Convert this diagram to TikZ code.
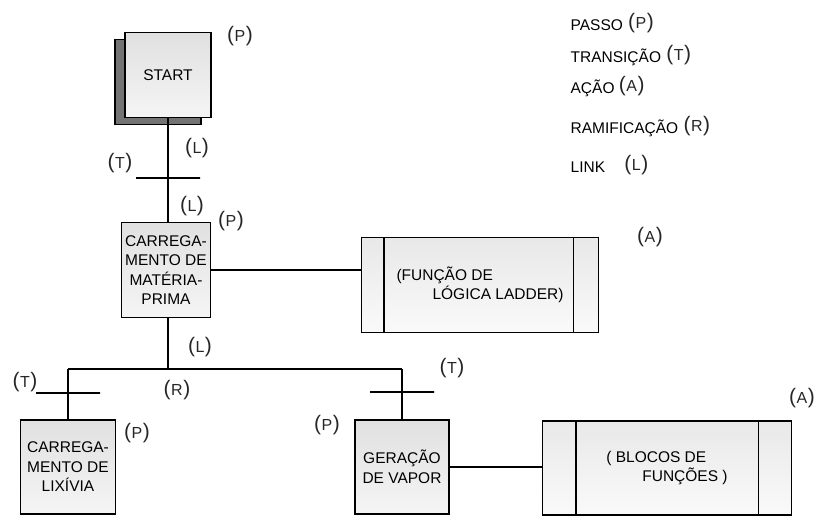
\documentclass[tikz,border=0pt]{standalone}
\usepackage{fontspec}
\setmainfont{Liberation Sans}
\usetikzlibrary{positioning,shadows}

\begin{document}
\begin{tikzpicture}[
  x=1pt, y=-1pt,
  line width=1.3pt,
  font=\fontsize{15.5}{19.5}\selectfont,
  stepbox/.style={rectangle, draw, top color=gray!24, bottom color=gray!8,
                  align=center, inner sep=1pt, minimum width=89pt, minimum height=95pt},
  actbox/.style={rectangle, draw, top color=gray!18, bottom color=gray!4,
                 align=left, minimum height=95pt},
  transbar/.style={rectangle, draw, minimum width=64pt, minimum height=0pt, inner sep=0pt},
  tag/.style={text=black!85, inner sep=1pt},
  legend/.style={anchor=west, inner sep=1pt}
]
\newcommand{\tg}[1]{{\fontsize{21}{21}\selectfont(}{\fontsize{16}{16}\selectfont\kern0.5pt#1\kern0.5pt}{\fontsize{21}{21}\selectfont)}}
\useasboundingbox (0,0) rectangle (820,516);

% ---------- Steps ----------
\node[stepbox, minimum width=86pt, minimum height=85pt, fill=gray!22,
      general shadow={fill=black!55, draw, shadow xshift=-10pt, shadow yshift=-7pt}]
      (START) at (168,75) {START};
\node[stepbox] (MP) at (166,270) {CARREGA-\\MENTO DE\\MATÉRIA-\\PRIMA};
\node[stepbox, minimum width=95pt, minimum height=94pt] (LX) at (68,467)
      {CARREGA-\\MENTO DE\\LIXÍVIA};
\node[stepbox, minimum width=94pt, minimum height=94pt] (GV) at (402,467)
      {GERAÇÃO\\DE VAPOR};

% ---------- Actions ----------
\node[actbox, minimum width=237pt] (A1) at (480,285)
      {(FUNÇÃO DE\\\hspace*{36pt}LÓGICA LADDER)};
\node[actbox, minimum width=249pt, minimum height=94pt] (A2) at (667,468)
      {( BLOCOS DE\\\hspace*{36pt}FUNÇÕES )};
\draw ([xshift=23pt]A1.north west) -- ([xshift=23pt]A1.south west);
\draw ([xshift=-26pt]A1.north east) -- ([xshift=-26pt]A1.south east);
\draw ([xshift=34pt]A2.north west) -- ([xshift=34pt]A2.south west);
\draw ([xshift=-34pt]A2.north east) -- ([xshift=-34pt]A2.south east);

% ---------- Transitions / branch ----------
\node[transbar] (T1) at (168,178) {};
\node[transbar] (T2) at (68,393) {};
\node[transbar] (T3) at (402,392) {};
\coordinate (R) at (168,369);
\coordinate (RL) at (68,369);
\coordinate (RR) at (402,369);

% ---------- Links ----------
\draw (START) -- (T1) -- (START.south |- MP.north);
\draw (START.south |- MP.south) -- (R);
\draw (RL) -- (RR);
\draw (RL) -- (T2) -- (LX);
\draw (RR) -- (T3) -- (GV);
\draw (MP.east) -- (MP.east -| A1.west);
\draw (GV.east) -- (GV.east -| A2.west);

% ---------- Tags ----------
\node[tag] (pS) at (240,36) {\tg{P}};
\node[tag] (lS) at (197,148) {\tg{L}};
\node[tag] (tS) at (120,163) {\tg{T}};
\node[tag] (lM) at (192,206) {\tg{L}};
\node[tag] (pM) at (231,221) {\tg{P}};
\node[tag] (aF) at (650,237) {\tg{A}};
\node[tag] (lB) at (200,347) {\tg{L}};
\node[tag] (rB) at (177,390) {\tg{R}};
\node[tag] (tL) at (25,382) {\tg{T}};
\node[tag] (pL) at (137,433) {\tg{P}};
\node[tag] (tV) at (452,368) {\tg{T}};
\node[tag] (pV) at (327,425) {\tg{P}};
\node[tag] (aB) at (802,398) {\tg{A}};

% ---------- Legend ----------
\node[legend] (kP) at (569,25) {PASSO};
\node[legend] (kT) at (569,57) {TRANSIÇÃO};
\node[legend] (kA) at (569,88) {AÇÃO};
\node[legend] (kR) at (569,128) {RAMIFICAÇÃO};
\node[legend] (kL) at (569,167) {LINK};
\node[tag, right=2pt of kP, yshift=2pt] (kPt) {\tg{P}};
\node[tag, right=2pt of kT, yshift=2pt] (kTt) {\tg{T}};
\node[tag, right=1pt of kA, yshift=2pt] (kAt) {\tg{A}};
\node[tag, right=2pt of kR, yshift=2pt] (kRt) {\tg{R}};
\node[tag, right=16pt of kL, yshift=2pt] (kLt) {\tg{L}};

\end{tikzpicture}
\end{document}
